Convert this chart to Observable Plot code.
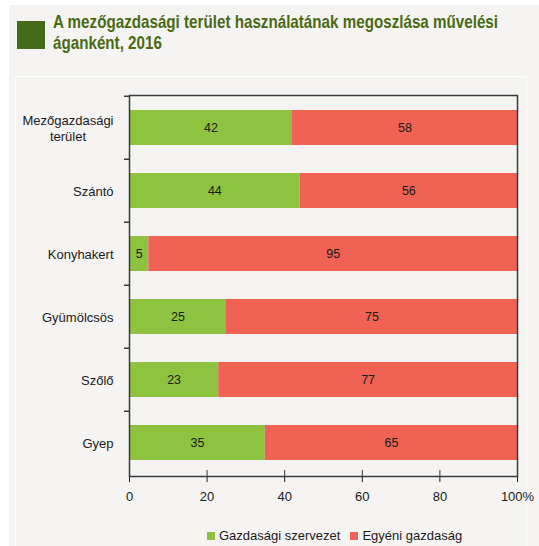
<!DOCTYPE html>
<html>
<head>
<meta charset="utf-8">
<script src="https://cdn.jsdelivr.net/npm/d3@7"></script>
<script src="https://cdn.jsdelivr.net/npm/@observablehq/plot@0.6"></script>
<style>
  html, body { margin: 0; padding: 0; background: #ffffff; }
  #page { position: relative; width: 539px; height: 546px; overflow: hidden; background: #ffffff; font-family: "Liberation Sans", Arial, sans-serif; }
  #panel { position: absolute; left: 9px; top: 5px; width: 530px; height: 541px; background: #f5f4f2; }
  #inner { position: absolute; left: 15px; top: 76px; width: 512px; height: 480px; border: 1px solid #fdfdfc; box-sizing: border-box; }
  #sq { position: absolute; left: 17px; top: 21px; width: 28px; height: 28px; background: #456b1a; }
  #title { position: absolute; left: 53px; top: 11px; font-family: "Liberation Sans", Arial, sans-serif; font-weight: bold; font-size: 19px; line-height: 21px; color: #496a15; white-space: nowrap; transform-origin: 0 0; }
  #chart { position: absolute; left: 0; top: 80px; }
  #legend { position: absolute; left: 207px; top: 528px; font-size: 13px; color: #1a1a1a; white-space: nowrap; display: flex; align-items: center; }
  .sw { display: inline-block; width: 8px; height: 8px; margin-right: 4px; }
  .item { display: inline-flex; align-items: center; margin-right: 10px; }
</style>
</head>
<body>
<div id="page">
  <div id="panel"></div>
  <div id="inner"></div>
  <div id="sq"></div>
  <div id="title"></div>
  <div id="chart"></div>
  <div id="legend"></div>
</div>
<script>
const titleLines = ["A mezőgazdasági terület használatának megoszlása művelési", "áganként, 2016"];
const categories = ["Mezőgazdasági\nterület", "Szántó", "Konyhakert", "Gyümölcsös", "Szőlő", "Gyep"];
const series = ["Gazdasági szervezet", "Egyéni gazdaság"];
const gazdasagiSzervezet = [42, 44, 5, 25, 23, 35];
const egyeniGazdasag = [58, 56, 95, 75, 77, 65];
const xTicks = [0, 20, 40, 60, 80, 100];
const xTickLabels = ["0", "20", "40", "60", "80", "100%"];
const colors = ["#8dc33f", "#ef6254"];

// title (condensed look: scale horizontally to the reference width)
const titleEl = document.getElementById("title");
titleEl.innerHTML = titleLines.join("<br>");
const tw = titleEl.getBoundingClientRect().width;
if (tw > 0) titleEl.style.transform = `scaleX(${445 / tw})`;

const rows = [];
categories.forEach((c, i) => {
  rows.push({category: c, series: series[0], value: gazdasagiSzervezet[i]});
  rows.push({category: c, series: series[1], value: egyeniGazdasag[i]});
});

const W = 539, H = 430, mt = 15, mb = 34, ml = 129, mr = 22;
const plotH = H - mt - mb;
const step = plotH / categories.length;

// measure label widths so multi-line labels are centred within a right-aligned block
const ctx = document.createElement("canvas").getContext("2d");
ctx.font = "13px 'Liberation Sans', Arial, sans-serif";
const labelMarks = categories.map(c => {
  const w = Math.max(...c.split("\n").map(s => ctx.measureText(s).width));
  return Plot.text([c], {y: d => d, text: d => d, frameAnchor: "left", textAnchor: "middle", dx: -16 - w / 2, fontSize: 13, fill: "#1a1a1a", lineHeight: 1.25});
});

const chart = Plot.plot({
  width: W, height: H,
  marginTop: mt, marginBottom: mb, marginLeft: ml, marginRight: mr,
  style: {fontFamily: "'Liberation Sans', Arial, sans-serif", fontSize: "13px", background: "transparent", color: "#1a1a1a"},
  x: {domain: [0, 100], ticks: xTicks, tickFormat: d => xTickLabels[xTicks.indexOf(d)], tickSize: 6, tickPadding: 9, label: null},
  y: {domain: categories, paddingInner: 0.44, paddingOuter: 0.22, axis: null},
  color: {domain: series, range: colors},
  marks: [
    Plot.barX(rows, Plot.stackX({x: "value", y: "category", fill: "series", order: series})),
    Plot.text(rows, Plot.stackX({x: "value", y: "category", z: "series", order: series, text: d => String(d.value), fill: "#1a1a1a", fontSize: 12.5})),
    Plot.frame({stroke: "#3a3a3a", strokeWidth: 1.5}),
    ...labelMarks,
    // y tick marks at category boundaries
    Plot.ruleY(categories, {y: d => d, x1: 0, x2: 0, insetLeft: -5, dy: -step / 2, stroke: "#3a3a3a", strokeWidth: 1.5}),
    // x ticks reaching up into the plot a little
    Plot.ruleX(xTicks, {x: d => d, insetTop: plotH - 6, stroke: "#3a3a3a", strokeWidth: 1})
  ]
});
document.getElementById("chart").appendChild(chart);

const legend = document.getElementById("legend");
series.forEach((s, i) => {
  const it = document.createElement("span");
  it.className = "item";
  if (i === series.length - 1) it.style.marginRight = "0";
  it.innerHTML = `<span class="sw" style="background:${colors[i]}"></span>${s}`;
  legend.appendChild(it);
});
</script>
</body>
</html>
